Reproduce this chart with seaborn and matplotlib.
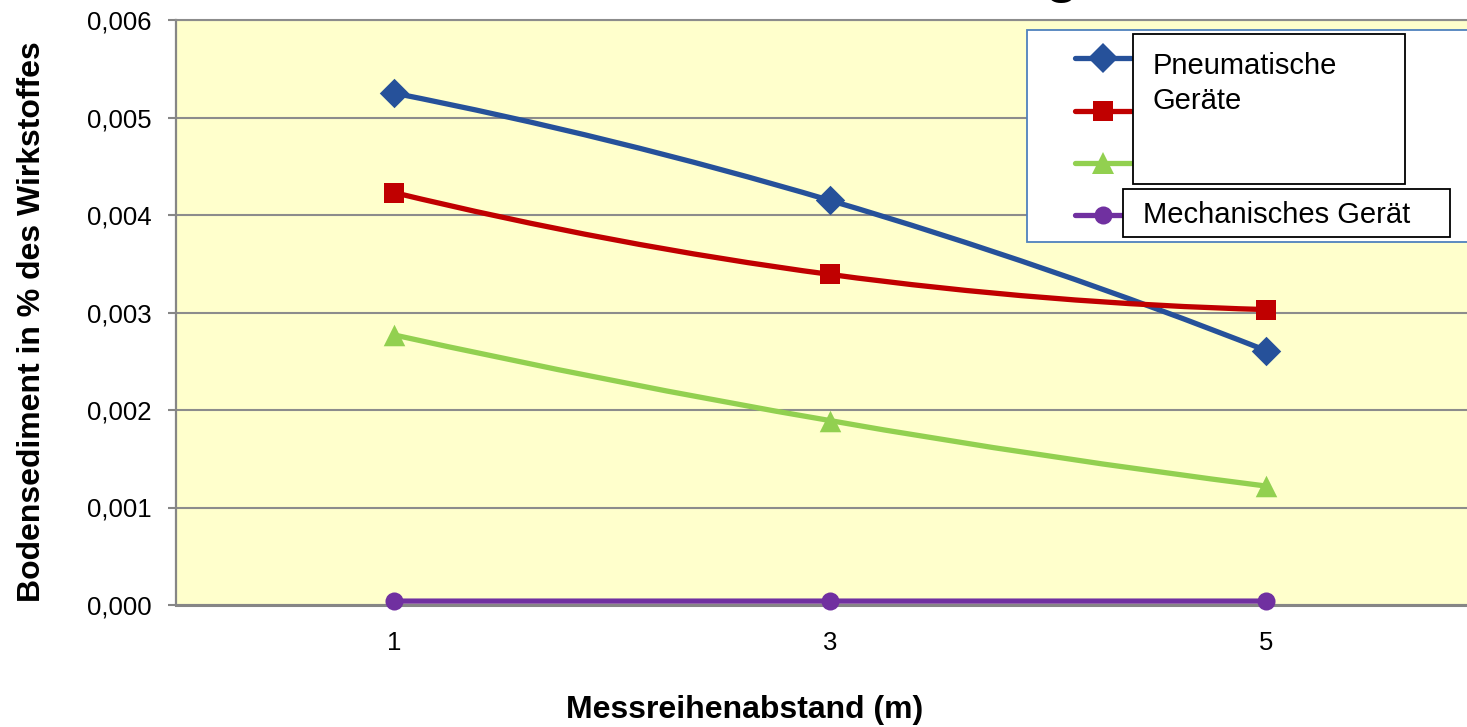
import numpy as np
import pandas as pd
import matplotlib
matplotlib.use("Agg")
import matplotlib.pyplot as plt
import seaborn as sns
from matplotlib.path import Path
from matplotlib.patches import PathPatch, Rectangle
from matplotlib.lines import Line2D
from matplotlib.ticker import FixedLocator, FixedFormatter

# ---------------- data ----------------
distance_m = [1, 3, 5]
x_tick_labels = ["1", "3", "5"]
series_names = ["Pneumatisches Gerät A", "Pneumatisches Gerät B",
                "Pneumatisches Gerät C", "Mechanisches Gerät"]
blue_values = [0.00525, 0.00415, 0.00261]
red_values = [0.00423, 0.00339, 0.00303]
green_values = [0.00277, 0.00189, 0.00122]
purple_values = [0.00004, 0.00004, 0.00004]
y_ticks = [0.000, 0.001, 0.002, 0.003, 0.004, 0.005, 0.006]
y_tick_labels = ["0,000", "0,001", "0,002", "0,003", "0,004", "0,005", "0,006"]
x_label = "Messreihenabstand (m)"
y_label = "Bodensediment in % des Wirkstoffes"
box1_text = "Pneumatische\nGeräte"
box2_text = "Mechanisches Gerät"
title_text = "g"

colors = ["#26519A", "#C00000", "#92D050", "#7030A0"]
markers = ["D", "s", "^", "o"]
msizes = [15, 14.5, 15.5, 13]

# ---------------- style ----------------
sns.set_style("white")
plt.rcParams["font.family"] = ["Liberation Sans", "DejaVu Sans"]
plt.rcParams["text.color"] = "black"
plt.rcParams["axes.labelcolor"] = "black"
plt.rcParams["xtick.color"] = "black"
plt.rcParams["ytick.color"] = "black"

W, H = 1467, 727
fig = plt.figure(figsize=(W / 100, H / 100), dpi=100)
fig.patch.set_facecolor("white")

ax = fig.add_axes([176 / W, 1 - 605 / H, (1484 - 176) / W, (605 - 20) / H])
ax.set_facecolor("#FFFFCC")
ax.set_xlim(0, 6)
ax.set_ylim(0, 0.006)

df = pd.DataFrame({
    "x": distance_m * 4,
    "y": blue_values + red_values + green_values + purple_values,
    "series": sum([[n] * 3 for n in series_names], []),
})


def smooth_path(xs, ys):
    # quadratic Bezier passing through the three measured points
    cx = xs[1]
    cy = (4 * ys[1] - ys[0] - ys[2]) / 2.0
    verts = [(xs[0], ys[0]), (cx, cy), (xs[2], ys[2])]
    return Path(verts, [Path.MOVETO, Path.CURVE3, Path.CURVE3])


for name, c, m, ms in zip(series_names, colors, markers, msizes):
    sub = df[df["series"] == name]
    xs = list(sub["x"])
    ys = list(sub["y"])
    patch = PathPatch(smooth_path(xs, ys), facecolor="none", edgecolor=c,
                      lw=3.8, capstyle="round", joinstyle="round",
                      transform=ax.transData, zorder=3, clip_on=False)
    ax.add_patch(patch)
    sns.scatterplot(data=sub, x="x", y="y", marker=m, color=c, s=ms ** 2,
                    linewidth=0, ax=ax, zorder=4, legend=False, clip_on=False)

# grid / spines / ticks
ax.yaxis.set_major_locator(FixedLocator(y_ticks))
ax.yaxis.set_major_formatter(FixedFormatter(y_tick_labels))
ax.xaxis.set_major_locator(FixedLocator(distance_m))
ax.xaxis.set_major_formatter(FixedFormatter(x_tick_labels))
ax.grid(False)
ax.yaxis.grid(True, color="#8C8C8C", lw=1.5, zorder=1)
ax.set_axisbelow(True)
ax.spines["right"].set_visible(False)
ax.spines["top"].set_color("#8C8C8C")
ax.spines["top"].set_linewidth(1.5)
ax.spines["left"].set_color("#868686")
ax.spines["left"].set_linewidth(1.6)
ax.spines["bottom"].set_color("#868686")
ax.spines["bottom"].set_linewidth(2.2)
ax.tick_params(axis="y", length=5.8, width=1.5, color="#868686",
               labelsize=18.5, pad=11.5, labelcolor="black", left=True)
ax.tick_params(axis="x", length=3.5, width=1.2, color="#868686",
               labelsize=18.5, pad=15, labelcolor="black", bottom=True)

ax.set_xlabel(x_label, fontsize=23, fontweight="bold", color="black")
ax.xaxis.set_label_coords((745 - 176) / 1308, (605 - 695) / 585)
ax.set_ylabel(y_label, fontsize=23, fontweight="bold", color="black")
ax.yaxis.set_label_coords((47 - 176) / 1308, (605 - 322) / 585)

# cropped title (only its lower part reaches into the picture)
fig.text(1062 / W, 1 + 9 / H, title_text, fontsize=40, fontweight="bold",
         ha="center", va="baseline", color="black")

# legend frame
frame = Rectangle((1027 / W, 1 - 242 / H), 0.35, 212 / H, transform=fig.transFigure,
                  facecolor="white", edgecolor="#4F81BD", lw=1.3, zorder=2)
fig.add_artist(frame)

handles = [Line2D([0], [0], color=c, lw=3.8, marker=m, markersize=ms,
                  markeredgewidth=0, solid_capstyle="round")
           for c, m, ms in zip(colors, markers, msizes)]
leg = fig.legend(handles, [" "] * 4, loc="upper left",
                 bbox_to_anchor=(1075 / W, 1 - 48 / H), frameon=False,
                 fontsize=20, handlelength=2.0, labelspacing=0.95,
                 borderpad=0, borderaxespad=0, handletextpad=0.2, numpoints=1)
leg.set_zorder(3)

# text boxes laid over the legend
box1 = Rectangle((1133 / W, 1 - 184 / H), 272 / W, 150 / H, transform=fig.transFigure,
                 facecolor="white", edgecolor="black", lw=1.3, zorder=4)
box2 = Rectangle((1123 / W, 1 - 237 / H), 327 / W, 48 / H, transform=fig.transFigure,
                 facecolor="white", edgecolor="black", lw=1.3, zorder=4)
fig.add_artist(box1)
fig.add_artist(box2)
t1 = fig.text(1153 / W, 1 - 52 / H, box1_text, fontsize=21, ha="left", va="top",
              linespacing=1.33, zorder=5, color="black")
t2 = fig.text(1143 / W, 1 - 215 / H, box2_text, fontsize=21, ha="left", va="center",
              zorder=5, color="black")

fig.savefig("out.png", dpi=100)
